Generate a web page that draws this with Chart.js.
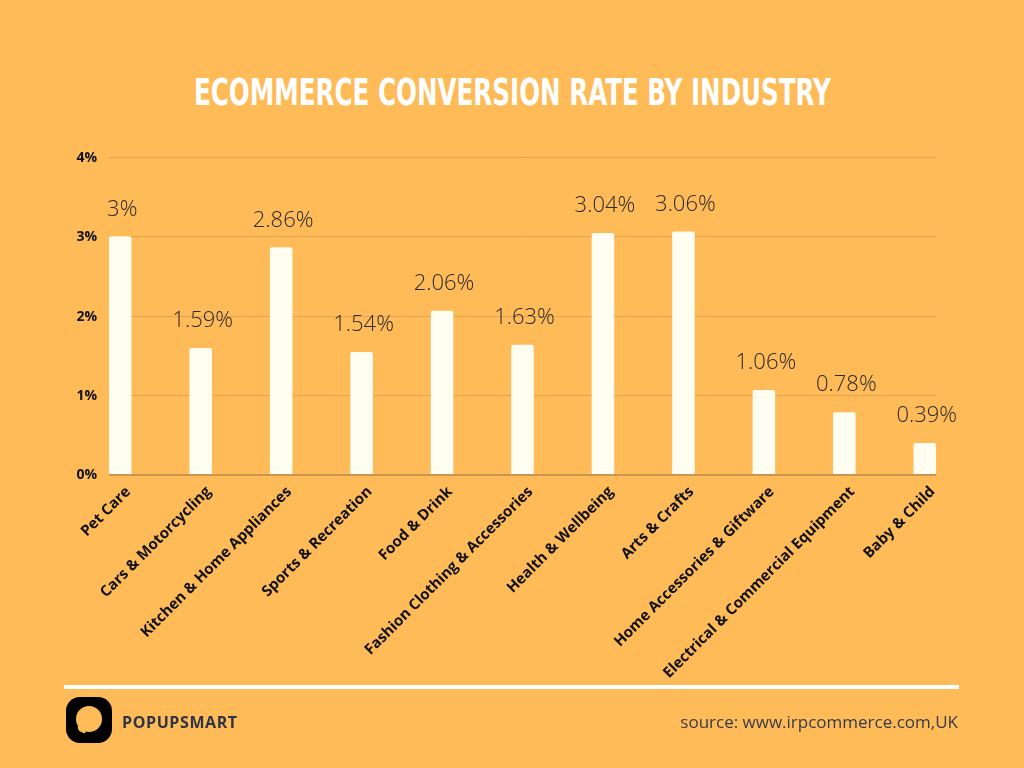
<!DOCTYPE html>
<html>
<head>
<meta charset="utf-8">
<script src="https://cdn.jsdelivr.net/npm/chart.js@4"></script>
<style>
  html, body { margin: 0; padding: 0; }
  body { width: 1024px; height: 768px; background: #FFBB58; position: relative; overflow: hidden; }
  #title {
    position: absolute; left: 0; top: 70px; width: 1024px; text-align: center;
    font-family: "DejaVu Sans Condensed", "Liberation Sans Narrow", sans-serif;
    font-weight: bold; font-size: 38px; color: #fff; white-space: nowrap;
  }
  #title span { display: inline-block; transform-origin: center center; }
  #chartBox { position: absolute; left: 0; top: 0; width: 1024px; height: 768px; }
  #rule { position: absolute; left: 64px; top: 685px; width: 895px; height: 4px; background: #fff; }
  #logo {
    position: absolute; left: 66px; top: 697px; width: 46px; height: 46px;
    background: #000; border-radius: 14px;
  }
  #logo .bowl {
    position: absolute; left: 10px; top: 9px; width: 26px; height: 26px;
    border-radius: 50%; background: #FFBB58;
  }
  #logo .tail {
    position: absolute; left: 11px; top: 30px; width: 9px; height: 5px;
    background: #FFBB58; border-radius: 0 0 0 5px; transform: rotate(20deg);
  }
  #brand {
    position: absolute; left: 122px; top: 711px;
    font-family: "Open Sans", sans-serif; font-weight: bold; font-size: 16px;
    letter-spacing: 0.6px; color: #2E3346;
  }
  #source {
    position: absolute; right: 66px; top: 710px;
    font-family: "Open Sans", sans-serif; font-size: 17px; color: #353B48;
  }
</style>
</head>
<body>
<div id="title"><span id="titleText">ECOMMERCE CONVERSION RATE BY INDUSTRY</span></div>
<div id="chartBox"><canvas id="myChart" width="1024" height="768"></canvas></div>
<div id="rule"></div>
<div id="logo"><div class="bowl"></div><div class="tail"></div></div>
<div id="brand">POPUPSMART</div>
<div id="source">source: www.irpcommerce.com,UK</div>
<script>
var industries = ["Pet Care", "Cars & Motorcycling", "Kitchen & Home Appliances", "Sports & Recreation",
    "Food & Drink", "Fashion Clothing & Accessories", "Health & Wellbeing", "Arts & Crafts",
    "Home Accessories & Giftware", "Electrical & Commercial Equipment", "Baby & Child"];
var rates = [3, 1.59, 2.86, 1.54, 2.06, 1.63, 3.04, 3.06, 1.06, 0.78, 0.39];
var yTicks = [0, 1, 2, 3, 4];

// squeeze the title to the width of the original condensed font
var t = document.getElementById('titleText');
t.style.transform = 'scaleX(' + (637 / t.offsetWidth) + ')';

// grid lines only span from first bar to last bar, tick labels drawn here too
var gridLines = {
    id: 'gridLines',
    beforeDatasetsDraw: function(chart) {
        var ctx = chart.ctx;
        var bars = chart.getDatasetMeta(0).data;
        var left = bars[0].x - bars[0].width / 2;
        var right = bars[bars.length - 1].x + bars[bars.length - 1].width / 2;
        var y = chart.scales.y;
        ctx.save();
        ctx.font = 'bold 14px "Open Sans"';
        ctx.fillStyle = '#111';
        ctx.textAlign = 'right';
        ctx.textBaseline = 'middle';
        yTicks.forEach(function(t) {
            var py = Math.round(y.getPixelForValue(t));
            ctx.fillText(t + '%', 97, py + 1);
            ctx.beginPath();
            if (t === 0) {
                ctx.strokeStyle = '#C99550';
                ctx.lineWidth = 2;
                py += 1;
            } else {
                ctx.strokeStyle = '#DFA456';
                ctx.lineWidth = 1;
                py += 0.5;
            }
            ctx.moveTo(left, py);
            ctx.lineTo(right, py);
            ctx.stroke();
        });
        ctx.restore();
    }
};

var valueLabels = {
    id: 'valueLabels',
    afterDatasetsDraw: function(chart) {
        var ctx = chart.ctx;
        ctx.save();
        ctx.font = '300 22px "Open Sans"';
        ctx.fillStyle = '#2a2a2a';
        ctx.textAlign = 'center';
        ctx.textBaseline = 'middle';
        chart.getDatasetMeta(0).data.forEach(function(bar, i) {
            ctx.fillText(rates[i] + '%', bar.x + 2, bar.y - 27);
        });
        ctx.restore();
    }
};

var ctx = document.getElementById("myChart").getContext('2d');
var myChart = new Chart(ctx, {
    type: 'bar',
    data: {
        labels: industries,
        datasets: [{
            data: rates,
            backgroundColor: '#FFFEF0',
            borderRadius: { topLeft: 2, topRight: 2 },
            borderSkipped: 'bottom',
            barPercentage: 1,
            categoryPercentage: 0.28
        }]
    },
    options: {
        responsive: false,
        animation: false,
        layout: { padding: { top: 157, right: 59, left: 0, bottom: 0 } },
        plugins: {
            legend: { display: false },
            tooltip: { enabled: false },
            title: { display: false }
        },
        scales: {
            x: {
                grid: { display: false },
                border: { display: false },
                afterFit: function(scale) { scale.height = 294; },
                ticks: {
                    autoSkip: false,
                    maxRotation: 45,
                    minRotation: 45,
                    padding: 1,
                    labelOffset: 8,
                    color: '#111',
                    font: { family: 'Open Sans', weight: 'bold', size: 15 }
                }
            },
            y: {
                min: 0,
                max: 4,
                afterFit: function(scale) { scale.width = 80; },
                grid: { display: false, drawTicks: false },
                border: { display: false },
                ticks: { display: false, stepSize: 1 }
            }
        }
    },
    plugins: [gridLines, valueLabels]
});
</script>
</body>
</html>
